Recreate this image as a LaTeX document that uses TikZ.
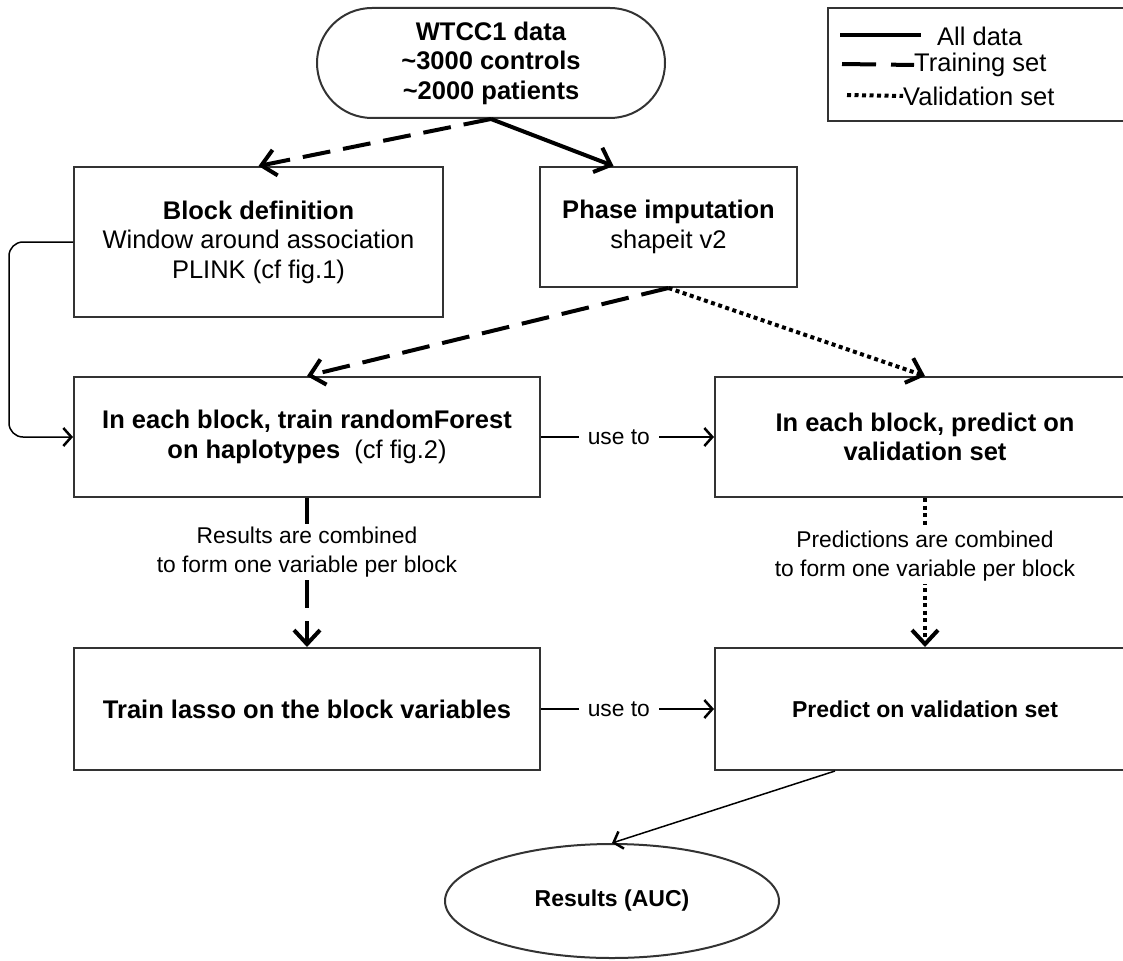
\documentclass[tikz,border=0pt]{standalone}
\usepackage{fontspec}
\setmainfont{Liberation Sans}
\usetikzlibrary{positioning,arrows.meta,shapes.misc,shapes.geometric}

\begin{document}
\begin{tikzpicture}[x=1pt,y=-1pt,
		box/.style={draw=black!80,line width=2pt,align=center,inner sep=2pt},
		big/.style={font=\fontsize{25.5}{29.5}\selectfont,align=center},
		bigb/.style={font=\fontsize{25.5}{29.5}\selectfont\bfseries,align=center},
		smallb/.style={font=\fontsize{23}{29}\selectfont\bfseries,align=center},
		small/.style={font=\fontsize{22.8}{29}\selectfont,align=center,fill=white,inner xsep=9pt,inner ysep=3pt},
		all/.style={line width=4pt,-{Straight Barb[length=14pt,width=26pt]}},
		train/.style={line width=4pt,dash pattern=on 28pt off 13pt,-{Straight Barb[length=14pt,width=26pt]}},
		valid/.style={line width=4pt,dash pattern=on 4pt off 3.5pt,-{Straight Barb[length=14pt,width=26pt]}},
		thin/.style={line width=1.5pt,-{Straight Barb[length=8pt,width=18pt,line width=2.5pt]}}]
		\useasboundingbox (0,0) rectangle (1123,960);
		
		\node[box,bigb,rounded rectangle,minimum width=352pt,minimum height=110pt] (wtcc) at (491,63) {WTCC1 data\\\textasciitilde3000 controls\\\textasciitilde2000 patients};
		\node[box,big,minimum width=369pt,minimum height=150pt] (blockdef) at (258.5,242) {{\bfseries Block definition}\\Window around association\\PLINK (cf fig.1)};
		\node[box,big,minimum width=257pt,minimum height=120pt] (phase) at (668.5,227) {{\bfseries Phase imputation}\\shapeit v2};
		\node[box,bigb,minimum width=466pt,minimum height=120pt] (forest) at (307,437) {In each block, train randomForest\\on haplotypes~~{\mdseries (cf fig.2)}};
		\node[box,bigb,minimum width=420pt,minimum height=120pt] (pred) at (925,437) {In each block, predict on\\validation set};
		\node[box,bigb,minimum width=466pt,minimum height=122pt] (lasso) at (307,709) {Train lasso on the block variables};
		\node[box,smallb,minimum width=420pt,minimum height=122pt] (predval) at (925,709) {Predict on validation set};
		\node[box,smallb,ellipse,minimum width=334pt,minimum height=114pt] (res) at (612,901) {Results (AUC)};
		
		% legend
		\node[box,minimum width=312pt,minimum height=113pt] (legend) at (984,64.5) {};
		\node[big,anchor=west,inner sep=0pt] (lall) at (937,36) {All data};
		\node[big,anchor=west,inner sep=0pt] (ltrain) at (914,65) {Training set};
		\node[big,anchor=west,inner sep=0pt] (lvalid) at (903,96) {Validation set};
		\draw[line width=4pt] (840,35) -- (921,35);
		\draw[line width=4pt,dash pattern=on 34pt off 15pt] (842,64) -- (ltrain.west);
		\draw[line width=4pt,dash pattern=on 4pt off 3.5pt] (847,95) -- (lvalid.west);
		
		\draw[train] (wtcc.south) -- (blockdef.north);
		\draw[all] (wtcc.south) -- ([xshift=-55pt]phase.north);
		\draw[train] (phase.south) -- (forest.north);
		\draw[valid] (phase.south) -- (pred.north);
		\draw[thin,rounded corners=14pt] (blockdef.west) -- ++(-64,0) |- (forest.west);
		\draw[thin] (forest.east) -- node[small,pos=0.45] {use to} (pred.west);
		\draw[train] (forest.south) -- node[small,pos=0.36] {Results are combined\\to form one variable per block} (lasso.north);
		\draw[valid] (pred.south) -- node[small,pos=0.39] {Predictions are combined\\to form one variable per block} (predval.north);
		\draw[thin] (lasso.east) -- node[small,pos=0.45] {use to} (predval.west);
		\draw[thin] ([xshift=-90pt]predval.south) -- (res.north);
	\end{tikzpicture}
\end{document}
